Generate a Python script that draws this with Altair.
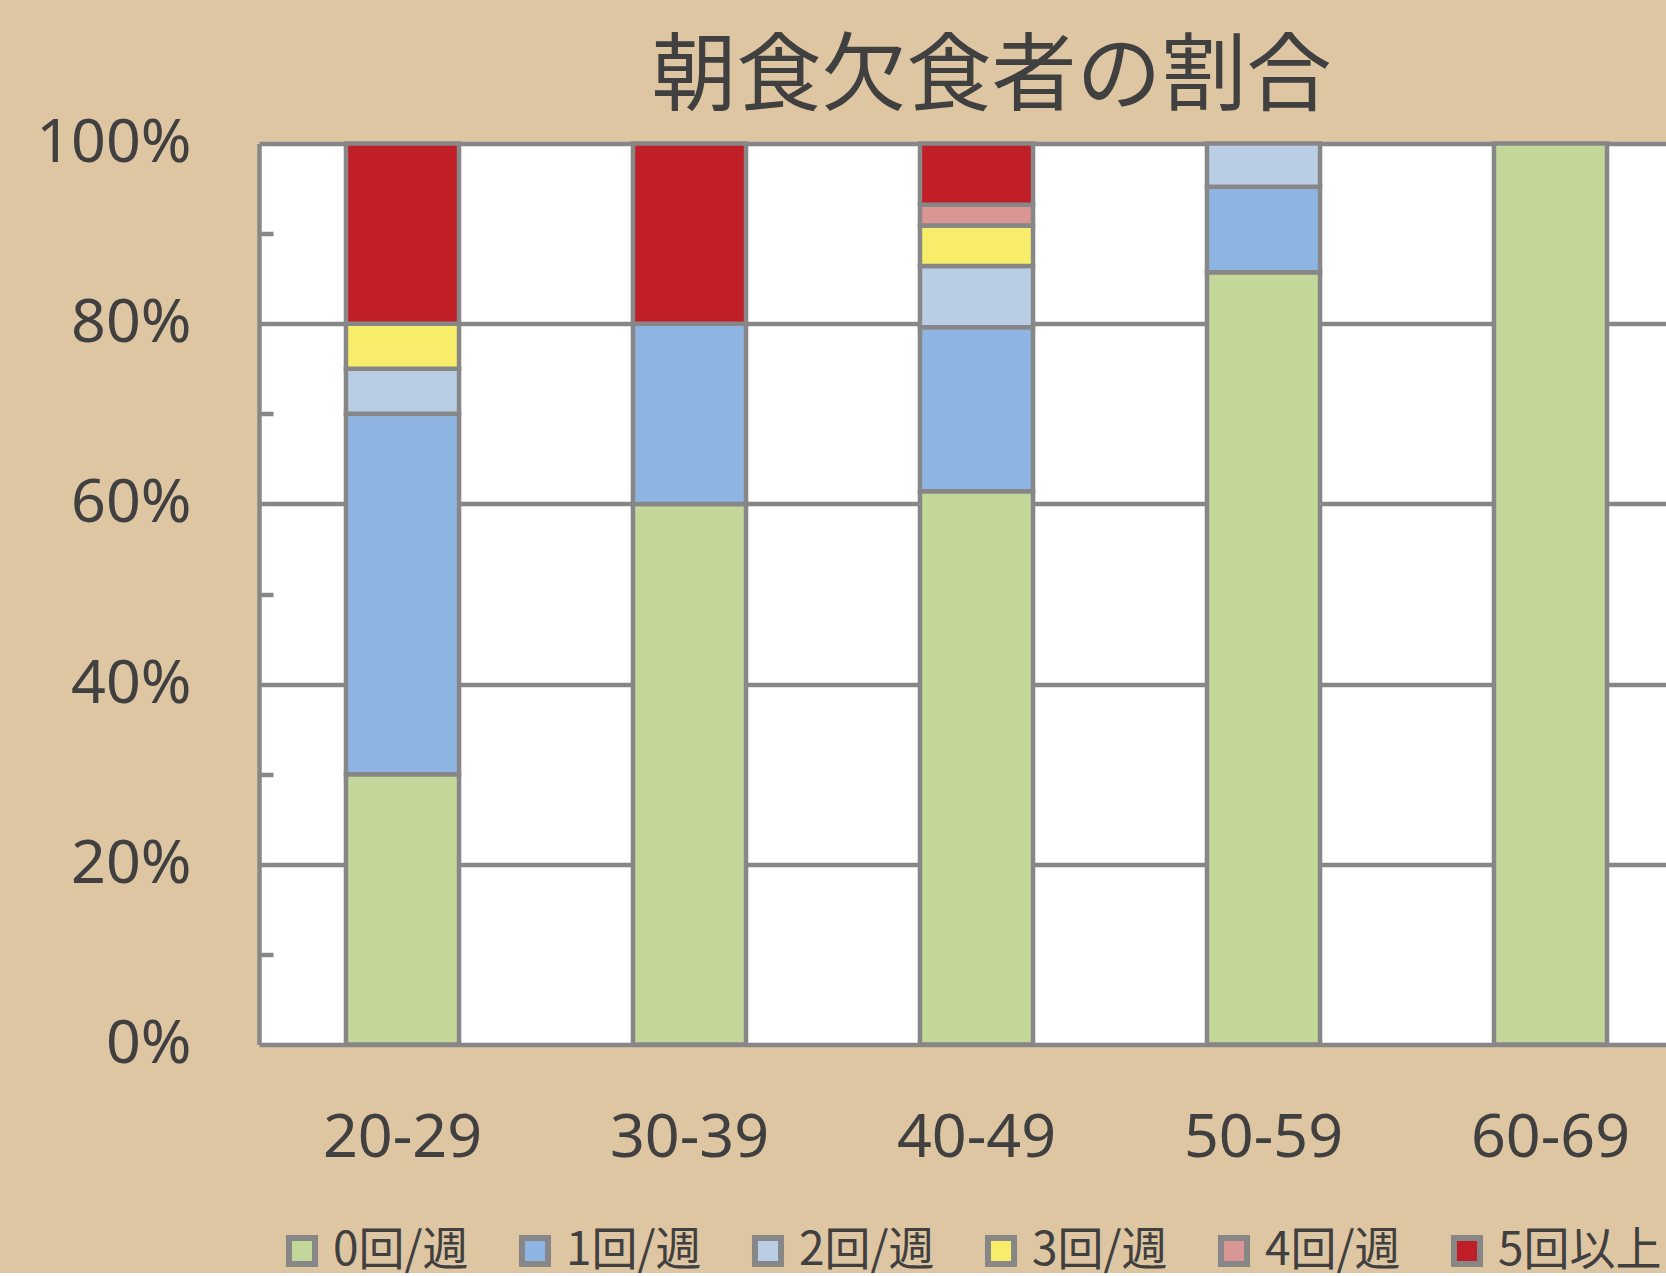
import altair as alt
import pandas as pd

ages = ["20-29", "30-39", "40-49", "50-59", "60-69"]
series = ["0回/週", "1回/週", "2回/週", "3回/週", "4回/週", "5回以上"]
colors = ["#c4d79b", "#8eb4e2", "#b9cde5", "#f8ed6b", "#da9694", "#c01f27"]

# percentages per age group, in series order
v_20 = [30.0, 40.0, 5.0, 5.0, 0.0, 20.0]
v_30 = [60.0, 20.0, 0.0, 0.0, 0.0, 20.0]
v_40 = [61.4, 18.2, 6.8, 4.5, 2.3, 6.8]
v_50 = [85.7, 9.5, 4.8, 0.0, 0.0, 0.0]
v_60 = [100.0, 0.0, 0.0, 0.0, 0.0, 0.0]

title_text = "朝食欠食者の割合"

rows = []
for age, vals in zip(ages, [v_20, v_30, v_40, v_50, v_60]):
    for i, (s, v) in enumerate(zip(series, vals)):
        rows.append({"age": age, "series": s, "idx": i, "value": v})
df = pd.DataFrame(rows)

GRAY = "#878787"
TXT = "#404040"

chart = (
    alt.Chart(df)
    .transform_filter("datum.value > 0")
    .mark_bar(stroke=GRAY, strokeWidth=4.5)
    .encode(
        x=alt.X(
            "age:N",
            sort=ages,
            title=None,
            scale=alt.Scale(range=[0, 1435], paddingInner=0.606, paddingOuter=0.303),
            axis=alt.Axis(
                domain=False,
                ticks=False,
                grid=False,
                labelAngle=0,
                labelFont="Noto Sans",
                labelFontSize=61,
                labelColor=TXT,
                labelPadding=64,
            ),
        ),
        y=alt.Y(
            "value:Q",
            stack="zero",
            title=None,
            scale=alt.Scale(domain=[0, 100], nice=False),
            axis=alt.Axis(
                values=[0, 10, 20, 30, 40, 50, 60, 70, 80, 90, 100],
                labelExpr="datum.value % 20 == 0 ? datum.value + '%' : ''",
                labelFont="Noto Sans",
                labelFontSize=61,
                labelColor=TXT,
                labelPadding=68,
                ticks=False,
                domain=True,
                domainColor=GRAY,
                domainWidth=4.5,
                grid=True,
                gridColor=GRAY,
                gridWidth=4.5,
                gridOpacity=1,
                gridDash={
                    "condition": {"test": "datum.value % 20 != 0", "value": [14, 3000]},
                    "value": [],
                },
            ),
        ),
        color=alt.Color(
            "series:N",
            sort=series,
            scale=alt.Scale(domain=series, range=colors),
            legend=alt.Legend(
                title=None,
                orient="none",
                legendX=20,
                legendY=1084,
                direction="horizontal",
                columns=6,
                symbolType="square",
                symbolSize=680,
                symbolStrokeWidth=6,
                symbolStrokeColor=GRAY,
                symbolOpacity=1,
                labelFont="Noto Sans CJK JP",
                labelFontSize=46,
                labelColor=TXT,
                labelOffset=8,
                labelLimit=400,
                columnPadding=40,
                padding=0,
            ),
        ),
        order=alt.Order("idx:Q", sort="ascending"),
    )
    .properties(
        width=1407,
        height=901,
        autosize=alt.AutoSizeParams(type="none"),
        padding={"left": 259, "top": 143.5, "right": 0, "bottom": 228},
        background="#dfc6a2",
        title=alt.TitleParams(
            text=title_text,
            font="Noto Sans CJK JP",
            fontSize=85,
            fontWeight="normal",
            color=TXT,
            anchor="middle",
            dx=29,
            dy=23,
            offset=14,
        ),
    )
    .configure_view(fill="white", stroke="transparent")
)

chart.save("out.html", embed_options={"renderer": "svg", "actions": False})
